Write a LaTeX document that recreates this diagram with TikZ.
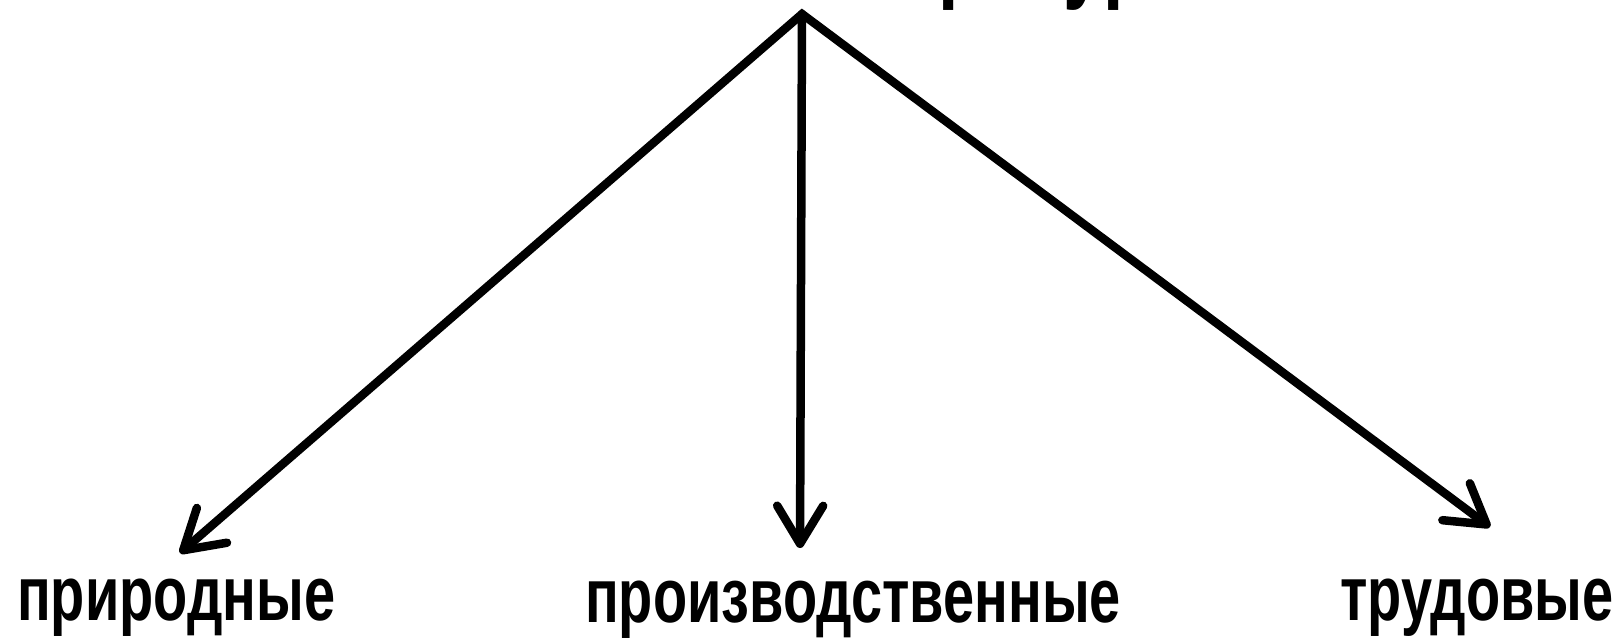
\documentclass[tikz,border=0pt]{standalone}
\usepackage{fontspec}
\setmainfont{Liberation Sans}[FakeStretch=0.726]
\usetikzlibrary{arrows.meta}
\begin{document}
\begin{tikzpicture}[x=1pt,y=-1pt,
  lbl/.style={inner sep=0pt,anchor=base west,font=\fontsize{77}{90}\selectfont\bfseries},
  ttl/.style={inner sep=0pt,anchor=base,font=\fontsize{101}{120}\selectfont\bfseries},
  barb/.tip={Straight Barb[length=38pt,width=46pt,round]},
  arr/.style={line width=8.5pt,line join=miter,line cap=round}]
\fill[white] (0,0) rectangle (1621,643);
\useasboundingbox (0,0) rectangle (1621,643);
\node[ttl] (title) at (802,-11) {Экономические ресурсы};
\coordinate (apex) at (802,14);
\node[lbl] (nat) at (17,620) {природные};
\node[lbl] (prod) at (585,622) {производственные};
\node[lbl] (lab) at (1340,620) {трудовые};
\coordinate (tipL) at (180,553);
\coordinate (tipM) at (800,548);
\coordinate (tipR) at (1490,527);
\draw[arr,barb-barb] (tipL) -- (apex) -- (tipR);
\draw[arr,-barb] (apex) -- (tipM);
\end{tikzpicture}
\end{document}
